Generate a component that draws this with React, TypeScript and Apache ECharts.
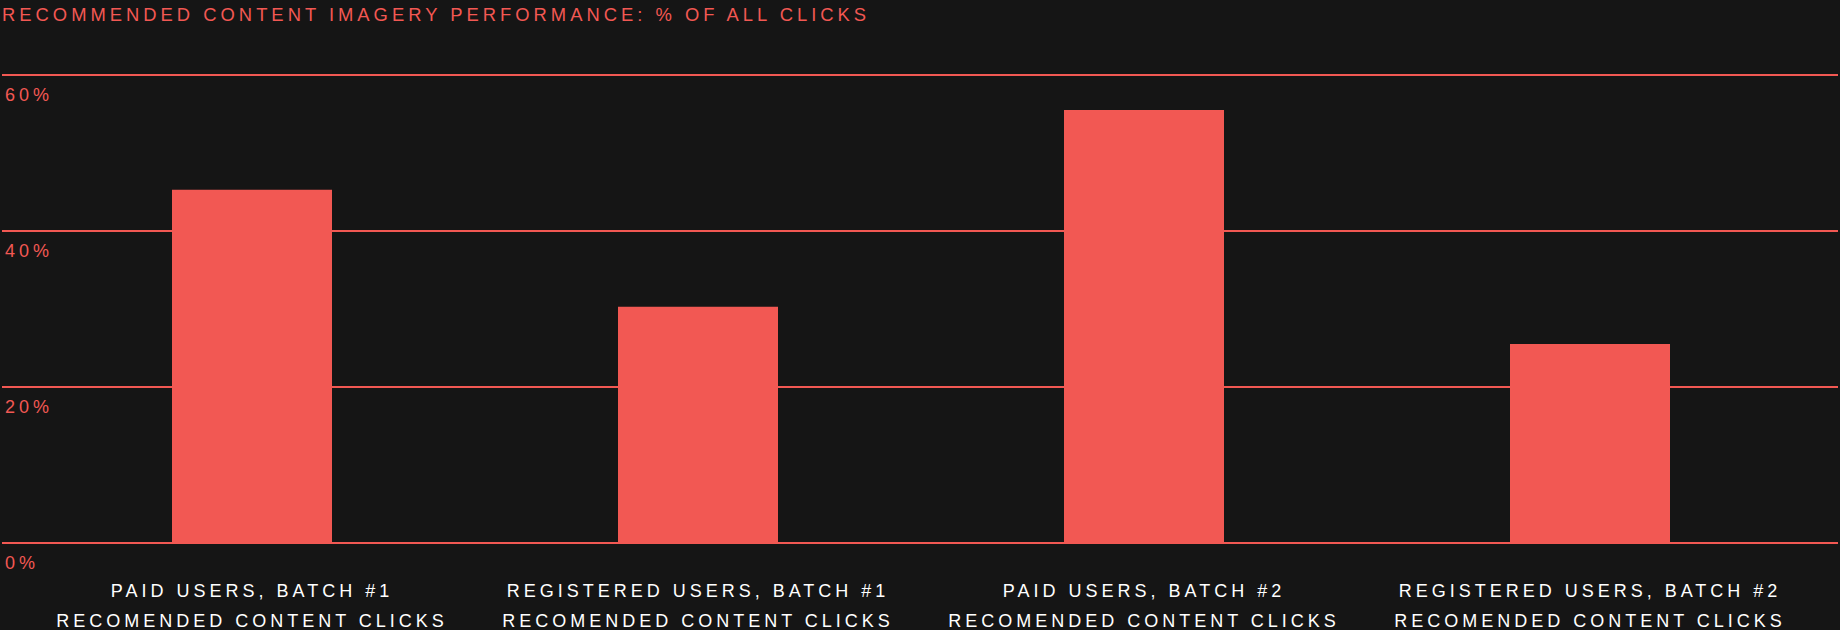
import React, { useEffect, useRef } from 'react';
import * as echarts from 'echarts';

const categories = [
  'PAID USERS, BATCH #1\nRECOMENDED CONTENT CLICKS',
  'REGISTERED USERS, BATCH #1\nRECOMENDED CONTENT CLICKS',
  'PAID USERS, BATCH #2\nRECOMENDED CONTENT CLICKS',
  'REGISTERED USERS, BATCH #2\nRECOMENDED CONTENT CLICKS',
];
const clickShare = [45.3, 30.3, 55.5, 25.5];
const yTicks = { min: 0, max: 60, interval: 20 };

const RED = '#f25853';
const FONT = '"Liberation Sans", Arial, sans-serif';

const App = () => {
  const chartRef = useRef(null);

  useEffect(() => {
    const myChart = echarts.init(chartRef.current, null, { renderer: 'svg' });

    const option = {
      animation: false,
      backgroundColor: '#151515',
      textStyle: { fontFamily: FONT },
      title: {
        text: 'RECOMMENDED CONTENT IMAGERY PERFORMANCE: % OF ALL CLICKS',
        left: 2,
        top: 5,
        padding: 0,
        textStyle: { color: RED, fontSize: 18.4, fontWeight: 'normal', fontFamily: FONT },
      },
      grid: [
        { left: 2, right: 2, top: 75, bottom: 87, outerBoundsMode: 'none', containLabel: false },
        { left: 29, right: 27, top: 75, bottom: 87, outerBoundsMode: 'none', containLabel: false },
      ],
      xAxis: [
        { type: 'category', gridIndex: 0, data: categories, show: false },
        {
          type: 'category',
          gridIndex: 1,
          data: categories,
          axisLine: { show: false },
          axisTick: { show: false },
          axisLabel: {
            color: '#ffffff',
            fontSize: 18,
            lineHeight: 30,
            margin: 33,
            interval: 0,
            fontFamily: FONT,
          },
        },
      ],
      yAxis: [
        {
          type: 'value',
          gridIndex: 0,
          ...yTicks,
          axisLine: { show: false },
          axisTick: { show: false },
          splitLine: { show: true, lineStyle: { color: RED, width: 2 } },
          axisLabel: {
            inside: true,
            margin: 3,
            align: 'left',
            verticalAlign: 'top',
            padding: [11, 0, 0, 0],
            color: RED,
            fontSize: 18,
            fontFamily: FONT,
            formatter: '{value}%',
          },
        },
        { type: 'value', gridIndex: 1, ...yTicks, show: false, splitLine: { show: false } },
      ],
      series: [
        {
          type: 'bar',
          xAxisIndex: 1,
          yAxisIndex: 1,
          data: clickShare,
          barWidth: 160,
          itemStyle: { color: RED },
          z: 3,
        },
      ],
    };

    myChart.setOption(option);

    return () => {
      myChart.dispose();
    };
  }, []);

  return (
    <div
      ref={chartRef}
      style={{ position: 'absolute', left: 0, top: 0, width: '1840px', height: '630px', letterSpacing: '4px' }}
    />
  );
};

export default App;
